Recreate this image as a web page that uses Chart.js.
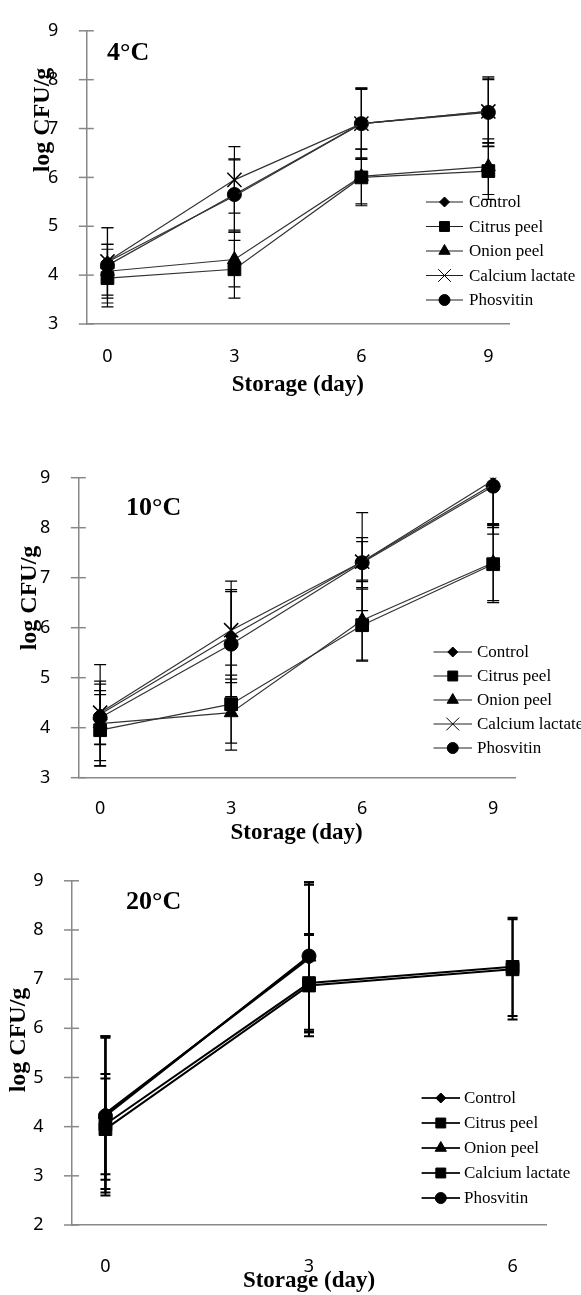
<!DOCTYPE html>
<html>
<head>
<meta charset="utf-8">
<script src="https://cdn.jsdelivr.net/npm/chart.js@4.4.1/dist/chart.umd.min.js"></script>
<style>
  html, body { margin: 0; padding: 0; background: #fff; }
  body { position: relative; width: 581px; height: 1295px; overflow: hidden; }
  canvas { position: absolute; left: 0; }
</style>
</head>
<body>
<canvas id="c4" width="581" height="400" style="top:0px"></canvas>
<canvas id="c10" width="581" height="410" style="top:440px"></canvas>
<canvas id="c20" width="581" height="445" style="top:850px"></canvas>
<script>
const seriesNames = ['Control', 'Citrus peel', 'Onion peel', 'Calcium lactate', 'Phosvitin'];

// 4°C panel
const days4 = [0, 3, 6, 9];
const control4 = [4.27, 5.62, 7.10, 7.35];
const controlErr4 = [0.36, 0.74, 0.72, 0.65];
const citrus4 = [3.94, 4.12, 6.00, 6.13];
const citrusErr4 = [0.59, 0.59, 0.58, 0.58];
const onion4 = [4.08, 4.32, 6.02, 6.22];
const onionErr4 = [0.55, 0.56, 0.56, 0.57];
const calcium4 = [4.28, 5.95, 7.10, 7.35];
const calciumErr4 = [0.69, 0.68, 0.73, 0.71];
const phosvitin4 = [4.20, 5.65, 7.10, 7.33];
const phosvitinErr4 = [0.77, 0.73, 0.70, 0.70];

// 10°C panel
const days10 = [0, 3, 6, 9];
const control10 = [4.27, 5.83, 7.32, 8.87];
const controlErr10 = [0.60, 0.93, 0.40, 1.00];
const citrus10 = [3.95, 4.47, 6.05, 7.27];
const citrusErr10 = [0.71, 0.78, 0.72, 0.77];
const onion10 = [4.08, 4.30, 6.15, 7.30];
const onionErr10 = [0.85, 0.75, 0.80, 0.76];
const calcium10 = [4.30, 5.95, 7.32, 8.95];
const calciumErr10 = [0.96, 0.98, 0.98, 0.95];
const phosvitin10 = [4.20, 5.67, 7.30, 8.83];
const phosvitinErr10 = [0.54, 1.05, 0.50, 0.75];

// 20°C panel
const days20 = [0, 3, 6];
const control20 = [4.27, 7.42];
const controlErr20 = [1.54, 1.50];
const citrus20 = [3.95, 6.87, 7.20];
const citrusErr20 = [1.03, 1.03, 1.02];
const onion20 = [4.25, 7.45];
const onionErr20 = [1.59, 1.52];
const calcium20 = [4.05, 6.92, 7.25];
const calciumErr20 = [1.02, 1.00, 1.00];
const phosvitin20 = [4.22, 7.47];
const phosvitinErr20 = [1.62, 1.50];

const markerSize = { rectRot: 6, rect: 9, triangle: 8, crossRot: 10, circle: 7 };
const legendSize = { rectRot: 5, rect: 7, triangle: 6.5, crossRot: 9, circle: 5.5 };

function drawMarker(ctx, style, r, x, y) {
  if (Chart.helpers && Chart.helpers.drawPoint) {
    Chart.helpers.drawPoint(ctx, { pointStyle: style, radius: r, rotation: 0, borderWidth: 1 }, x, y);
  } else {
    ctx.beginPath();
    ctx.arc(x, y, r, 0, Math.PI * 2);
    ctx.fill();
  }
}

// error bars, drawn with the chart's own y scale
const errorBars = {
  id: 'errorBars',
  beforeDatasetsDraw(chart, args, opts) {
    const { ctx, chartArea } = chart;
    const yScale = chart.scales.y;
    ctx.save();
    ctx.beginPath();
    ctx.rect(chartArea.left, chartArea.top, chartArea.right - chartArea.left, chartArea.bottom - chartArea.top);
    ctx.clip();
    ctx.strokeStyle = '#000';
    ctx.lineWidth = opts.width;
    chart.data.datasets.forEach((ds, i) => {
      const meta = chart.getDatasetMeta(i);
      meta.data.forEach((pt, j) => {
        const v = ds.data[j].y;
        const e = ds.errors[j];
        const yt = yScale.getPixelForValue(v + e);
        const yb = yScale.getPixelForValue(v - e);
        ctx.beginPath();
        ctx.moveTo(pt.x, yt); ctx.lineTo(pt.x, yb);
        ctx.moveTo(pt.x - opts.cap, yt); ctx.lineTo(pt.x + opts.cap, yt);
        ctx.moveTo(pt.x - opts.cap, yb); ctx.lineTo(pt.x + opts.cap, yb);
        ctx.stroke();
      });
    });
    ctx.restore();
  }
};

// cross ticks on y axis, panel label, y title, legend
const decor = {
  id: 'decor',
  afterDraw(chart, args, o) {
    const { ctx } = chart;
    const yScale = chart.scales.y;
    ctx.save();
    ctx.strokeStyle = '#888';
    ctx.lineWidth = 1.5;
    yScale.ticks.forEach(t => {
      const y = yScale.getPixelForValue(t.value);
      ctx.beginPath();
      ctx.moveTo(yScale.right - 7.5, y);
      ctx.lineTo(yScale.right + 7.5, y);
      ctx.stroke();
    });

    ctx.fillStyle = '#000';
    ctx.textBaseline = 'middle';
    ctx.textAlign = 'left';
    ctx.font = 'bold 26px "Liberation Serif"';
    ctx.fillText(o.panel, o.panelX, o.panelY);

    ctx.save();
    ctx.translate(o.yTitleX, o.yTitleY);
    ctx.rotate(-Math.PI / 2);
    ctx.textAlign = 'center';
    ctx.font = 'bold 24px "Liberation Serif"';
    ctx.fillText('log CFU/g', 0, 0);
    ctx.restore();

    chart.data.datasets.forEach((ds, i) => {
      const y = o.legY + i * o.legStep;
      ctx.strokeStyle = '#222';
      ctx.lineWidth = o.legLine;
      ctx.beginPath();
      ctx.moveTo(o.legX0, y); ctx.lineTo(o.legX1, y);
      ctx.stroke();
      ctx.fillStyle = '#000';
      ctx.strokeStyle = '#000';
      ctx.lineWidth = 1;
      drawMarker(ctx, ds.pointStyle, legendSize[ds.pointStyle], (o.legX0 + o.legX1) / 2, y);
      ctx.font = '17px "Liberation Serif"';
      ctx.fillText(ds.label, o.legText, y + 1);
    });
    ctx.restore();
  }
};

Chart.defaults.font.family = '"Noto Sans", sans-serif';
Chart.defaults.color = '#000';

function buildChart(id, o) {
  const datasets = o.series.map((s, i) => ({
    label: seriesNames[i],
    data: s.mean.map((v, j) => ({ x: o.days[j], y: v })),
    errors: s.err,
    borderColor: o.lineColor,
    borderWidth: o.lineWidth,
    pointStyle: o.styles[i],
    pointRadius: markerSize[o.styles[i]],
    pointBackgroundColor: '#000',
    pointBorderColor: '#000',
    pointBorderWidth: o.styles[i] === 'crossRot' ? 1.5 : 1,
    tension: 0,
    fill: false
  }));

  return new Chart(document.getElementById(id), {
    type: 'line',
    data: { datasets },
    options: {
      responsive: false,
      animation: false,
      devicePixelRatio: 1,
      layout: { padding: o.padding },
      plugins: {
        legend: { display: false },
        tooltip: { enabled: false },
        errorBars: { width: o.errWidth, cap: o.cap },
        decor: o.decor
      },
      scales: {
        x: {
          type: 'linear',
          min: -0.5,
          max: o.days[o.days.length - 1] + 0.5,
          afterBuildTicks: sc => { sc.ticks = o.days.map(v => ({ value: v })); },
          afterFit: sc => { sc.height = o.xHeight; },
          grid: { display: false },
          border: { color: '#888', width: 1.5 },
          ticks: { padding: o.xPad, font: { size: 18 } },
          title: {
            display: true,
            text: 'Storage (day)',
            font: { family: '"Liberation Serif"', size: 23, weight: 'bold' },
            padding: { top: 0, bottom: o.titlePad }
          }
        },
        y: {
          min: o.yMin,
          max: 9,
          afterFit: sc => { sc.width = o.yWidth; },
          grid: { display: false },
          border: { color: '#888', width: 1.5 },
          ticks: { stepSize: 1, padding: 20, font: { size: 18 } }
        }
      }
    },
    plugins: [errorBars, decor]
  });
}

buildChart('c4', {
  days: days4,
  series: [
    { mean: control4, err: controlErr4 },
    { mean: citrus4, err: citrusErr4 },
    { mean: onion4, err: onionErr4 },
    { mean: calcium4, err: calciumErr4 },
    { mean: phosvitin4, err: phosvitinErr4 }
  ],
  styles: ['rectRot', 'rect', 'triangle', 'crossRot', 'circle'],
  lineColor: '#333', lineWidth: 1.2, errWidth: 1.2, cap: 6,
  yMin: 3,
  padding: { left: 0, right: 71.5, top: 20, bottom: 0 },
  yWidth: 86.3, xHeight: 76, xPad: 14.5, titlePad: 1,
  decor: {
    panel: '4°C', panelX: 107, panelY: 53,
    yTitleX: 43, yTitleY: 120,
    legX0: 426, legX1: 463, legText: 469, legY: 202, legStep: 24.5, legLine: 1.2
  }
});

buildChart('c10', {
  days: days10,
  series: [
    { mean: control10, err: controlErr10 },
    { mean: citrus10, err: citrusErr10 },
    { mean: onion10, err: onionErr10 },
    { mean: calcium10, err: calciumErr10 },
    { mean: phosvitin10, err: phosvitinErr10 }
  ],
  styles: ['rectRot', 'rect', 'triangle', 'crossRot', 'circle'],
  lineColor: '#333', lineWidth: 1.2, errWidth: 1.2, cap: 6,
  yMin: 3,
  padding: { left: 0, right: 66, top: 37.7, bottom: 0 },
  yWidth: 78.3, xHeight: 72.3, xPad: 12.5, titlePad: 3,
  decor: {
    panel: '10°C', panelX: 126, panelY: 68,
    yTitleX: 30, yTitleY: 158,
    legX0: 433.5, legX1: 472, legText: 477, legY: 212, legStep: 24, legLine: 1.2
  }
});

buildChart('c20', {
  days: days20,
  series: [
    { mean: control20, err: controlErr20 },
    { mean: citrus20, err: citrusErr20 },
    { mean: onion20, err: onionErr20 },
    { mean: calcium20, err: calciumErr20 },
    { mean: phosvitin20, err: phosvitinErr20 }
  ],
  styles: ['rectRot', 'rect', 'triangle', 'rect', 'circle'],
  lineColor: '#000', lineWidth: 2, errWidth: 2, cap: 5,
  yMin: 2,
  padding: { left: 0, right: 34.5, top: 22.3, bottom: 0 },
  yWidth: 71.5, xHeight: 70, xPad: 23.5, titlePad: 0,
  decor: {
    panel: '20°C', panelX: 126, panelY: 52,
    yTitleX: 19, yTitleY: 190,
    legX0: 421.6, legX1: 460, legText: 464, legY: 248, legStep: 25, legLine: 2
  }
});
</script>
</body>
</html>
